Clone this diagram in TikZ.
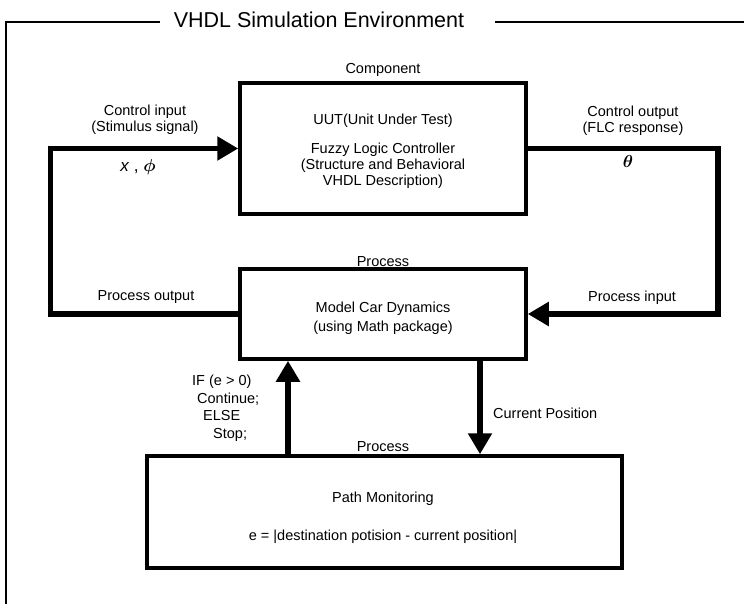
\documentclass[tikz,border=0pt]{standalone}
\usepackage{fontspec}
\setmainfont{Liberation Sans}
\usepackage{bm}
\usetikzlibrary{arrows.meta,calc}
\begin{document}
\begin{tikzpicture}[x=1pt,y=-1pt,
  blk/.style={draw,line width=3.5pt,inner sep=0pt},
  lbl/.style={font=\fontsize{14.5}{16}\selectfont,inner sep=0pt,align=center},
  sym/.style={font=\fontsize{17}{19}\selectfont,inner sep=0pt},
  flow/.style={line width=5.5pt,-{Triangle[length=21pt,width=23pt]}},
  frame/.style={line width=1.3pt}]
\useasboundingbox (0,0) rectangle (744,604);
% frame and title
\node[font=\fontsize{21.5}{25}\selectfont,inner sep=0pt] (title) at (319,20) {VHDL Simulation Environment};
\coordinate (fb) at (6,604);
\coordinate (fl) at (6,22);
\coordinate (fa) at (160,22);
\coordinate (fc) at (495,22);
\coordinate (fd) at (744,22);
\draw[frame] (fb) -- (fl) -- (fa);
\draw[frame] (fc) -- (fd);
% boxes
\node[blk,minimum width=286pt,minimum height=131pt] (uut) at (383,148.5) {};
\node[blk,minimum width=286pt,minimum height=90pt] (proc) at (383,314) {};
\node[blk,minimum width=475pt,minimum height=112pt] (mon) at (384.5,512) {};
% box texts
\node[lbl] (comp) at (383,70) {Component};
\node[lbl] (t1) at (383,121) {UUT(Unit Under Test)};
\node[lbl] (t2) at (383,166) {Fuzzy Logic Controller\\(Structure and Behavioral\\VHDL Description)};
\node[lbl] (plab1) at (383,262) {Process};
\node[lbl] (mcd) at (383,318) {Model Car Dynamics\\[3pt](using Math package)};
\node[lbl] (plab2) at (383,447) {Process};
\node[lbl] (pm) at (383,499) {Path Monitoring};
\node[lbl] (eq) at (383,537) {e = |destination potision - current position|};
% loops
\draw[flow] (proc.west) -- ++(-188,0) |- (uut.west);
\draw[flow] (uut.east) -- ++(190,0) |- (proc.east);
% vertical arrows
\coordinate (ua) at (288,0);
\coordinate (da) at (480,0);
\draw[flow] (ua |- mon.north) -- (ua |- proc.south);
\draw[flow] (da |- proc.south) -- (da |- mon.north);
% loop labels
\node[lbl] (ci) at (145,120) {Control input\\(Stimulus signal)};
\node[sym] (xphi) at (138,167) {\textit{x} , $\bm{\phi}$};
\node[lbl] (co) at (633,121) {Control output\\(FLC response)};
\node[sym] (th) at (628,162) {$\bm{\theta}$};
\node[lbl] (po) at (146,297) {Process output};
\node[lbl] (pin) at (632,298) {Process input};
% condition labels
\node[lbl,anchor=base west] (if1) at (192,385) {IF (e > 0)};
\node[lbl,anchor=base west] (if2) at (197,403) {Continue;};
\node[lbl,anchor=base west] (if3) at (203,420) {ELSE};
\node[lbl,anchor=base west] (if4) at (213,438) {Stop;};
\node[lbl,anchor=base west] (cp) at (493,418) {Current Position};
\end{tikzpicture}
\end{document}
